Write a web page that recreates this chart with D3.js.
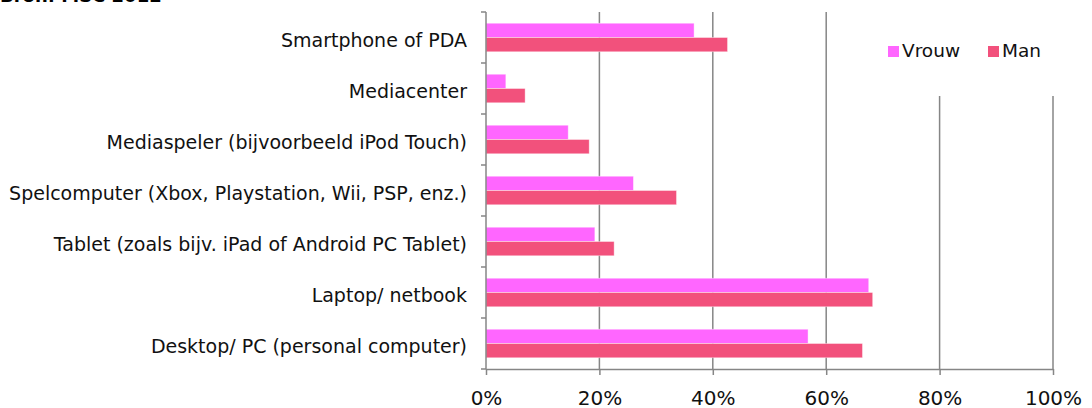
<!DOCTYPE html>
<html>
<head>
<meta charset="utf-8">
<script src="https://cdn.jsdelivr.net/npm/d3@7/dist/d3.min.js"></script>
<style>
    body { margin: 0; background: #fff; }
    svg { display: block; font-family: "DejaVu Sans", Verdana, sans-serif; }
</style>
</head>
<body>
<svg id="chart" width="1092" height="408"></svg>
<script>
const categories = [
    "Smartphone of PDA",
    "Mediacenter",
    "Mediaspeler (bijvoorbeeld iPod Touch)",
    "Spelcomputer (Xbox, Playstation, Wii, PSP, enz.)",
    "Tablet (zoals bijv. iPad of Android PC Tablet)",
    "Laptop/ netbook",
    "Desktop/ PC (personal computer)"
];
const seriesNames = ["Vrouw", "Man"];
const vrouw = [36.7, 3.5, 14.5, 26.0, 19.2, 67.5, 56.8];
const man = [42.6, 6.9, 18.2, 33.6, 22.6, 68.2, 66.4];
const xTicks = [0, 20, 40, 60, 80, 100];
const colors = ["#ff66ff", "#f2517c"];

const margin = {left: 486, top: 12, right: 39, bottom: 39};
const width = 1092 - margin.left - margin.right;
const height = 408 - margin.top - margin.bottom;
const axisColor = "#868686";

const data = categories.map(function (c, i) {
    return {label: c, values: [vrouw[i], man[i]]};
});

const svg = d3.select("#chart");

// title, cut off by the top edge as in the original
svg.append("text")
    .attr("x", 0)
    .attr("y", 1.5)
    .style("font-weight", "bold")
    .style("font-size", "18px")
    .text("Bron: MSC 2012");

const g = svg.append("g")
    .attr("transform", `translate(${margin.left}, ${margin.top})`);

const x = d3.scaleLinear().domain([0, 100]).range([0, width]);
const y = d3.scaleBand().domain(categories).range([0, height])
    .paddingInner(0.44).paddingOuter(0.22);
const ySub = d3.scaleBand().domain(seriesNames).range([0, y.bandwidth()]);

// vertical gridlines
g.selectAll(".grid")
    .data(xTicks.filter(function (d) { return d > 0; }))
    .enter()
    .append("line")
    .attr("x1", function (d) { return x(d); })
    .attr("x2", function (d) { return x(d); })
    .attr("y1", 0)
    .attr("y2", height)
    .style("stroke", axisColor)
    .style("stroke-width", 1.5);

// bars
const groups = g.selectAll(".cat")
    .data(data)
    .enter()
    .append("g")
    .attr("transform", function (d) { return `translate(0, ${y(d.label)})`; });

groups.selectAll("rect")
    .data(function (d) { return d.values; })
    .enter()
    .append("rect")
    .attr("x", x(0))
    .attr("y", function (d, i) { return ySub(seriesNames[i]); })
    .attr("width", function (d) { return x(d) - x(0); })
    .attr("height", ySub.bandwidth())
    .style("fill", function (d, i) { return colors[i]; })
    .style("stroke", "#fff")
    .style("stroke-opacity", 0.5)
    .style("stroke-width", 0.8);

// y axis (category boundaries as ticks)
const step = y.step();
g.append("line")
    .attr("x1", 0).attr("x2", 0)
    .attr("y1", 0).attr("y2", height)
    .style("stroke", axisColor)
    .style("stroke-width", 1.5);
g.selectAll(".ytick")
    .data(d3.range(categories.length + 1))
    .enter()
    .append("line")
    .attr("x1", -5).attr("x2", 0)
    .attr("y1", function (d) { return d * step; })
    .attr("y2", function (d) { return d * step; })
    .style("stroke", axisColor)
    .style("stroke-width", 1.5);

g.selectAll(".ylabel")
    .data(categories)
    .enter()
    .append("text")
    .attr("x", -19)
    .attr("y", function (d) { return y(d) + y.bandwidth() / 2; })
    .attr("dy", "0.5em")
    .style("text-anchor", "end")
    .style("font-size", "19px")
    .style("fill", "#111")
    .text(function (d) { return d; });

// x axis
const xAxis = g.append("g")
    .attr("transform", `translate(0, ${height})`)
    .call(d3.axisBottom(x).tickValues(xTicks).tickSize(6).tickSizeOuter(0)
        .tickFormat(function (d) { return d + "%"; }));
xAxis.select(".domain").style("stroke", axisColor).style("stroke-width", 1.5);
xAxis.selectAll(".tick line").style("stroke", axisColor).style("stroke-width", 1.5);
xAxis.selectAll(".tick text")
    .attr("y", 36)
    .attr("dy", 0)
    .style("font-family", "\"DejaVu Sans\", Verdana, sans-serif")
    .style("font-size", "20px")
    .style("fill", "#111");

// Legend
const legend = svg.append("g");
legend.append("rect")
    .attr("x", 868).attr("y", 10)
    .attr("width", 224).attr("height", 86)
    .style("fill", "#fff");
const legendX = [888, 988];
seriesNames.forEach(function (name, i) {
    legend.append("rect")
        .attr("x", legendX[i]).attr("y", 46)
        .attr("width", 11).attr("height", 11)
        .style("fill", colors[i]);
    legend.append("text")
        .attr("x", legendX[i] + 14).attr("y", 57)
        .style("font-size", "18.5px")
        .style("fill", "#111")
        .text(name);
});
</script>
</body>
</html>
